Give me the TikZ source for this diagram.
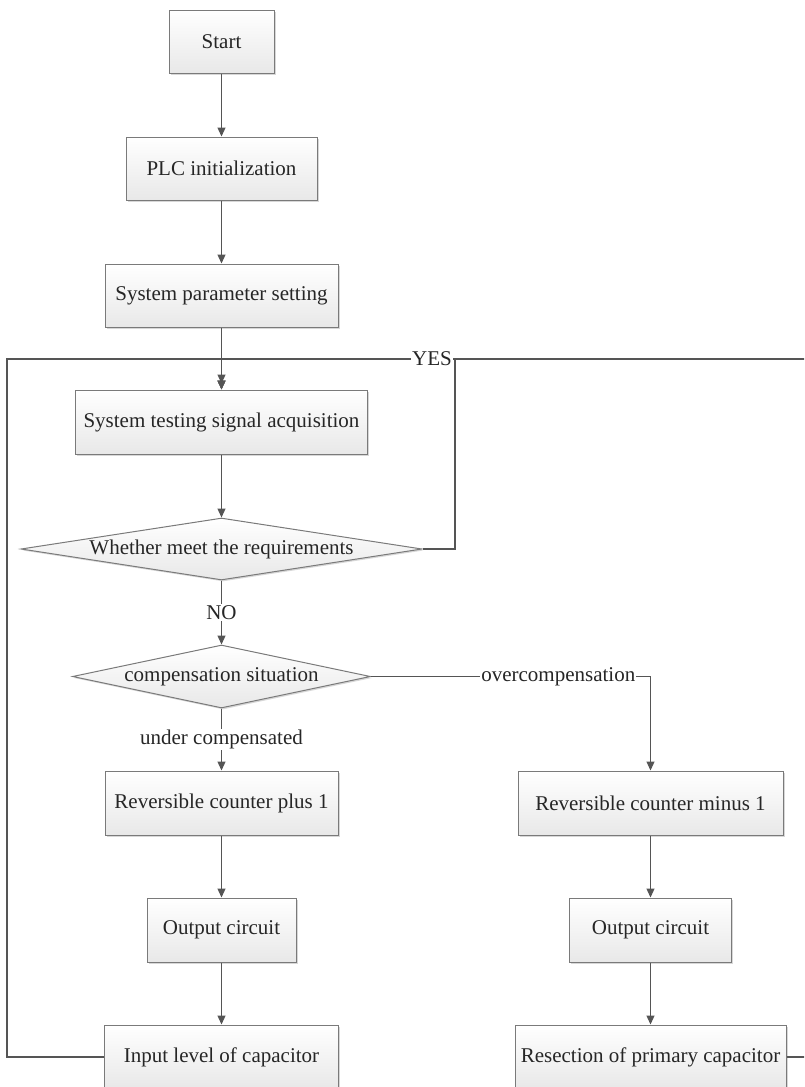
\documentclass[tikz,border=0pt]{standalone}
\usepackage{fontspec}
\setmainfont{Liberation Serif}
\usetikzlibrary{arrows.meta,shapes.geometric,shadows}
\definecolor{ln}{HTML}{555555}
\definecolor{bd}{HTML}{7A7A7A}
\tikzset{
  txt/.style={font=\fontsize{21}{25}\selectfont, text=black!85},
  box/.style={txt, rectangle, draw=bd, line width=1pt, top color=white, bottom color=black!9,
    drop shadow={shadow xshift=1.5pt, shadow yshift=-1.5pt, fill=black!35, opacity=0.45},
    inner sep=0pt},
  dia/.style={txt, diamond, draw=bd, line width=1pt, top color=white, bottom color=black!9,
    drop shadow={shadow xshift=1.5pt, shadow yshift=-1.5pt, fill=black!35, opacity=0.45},
    inner sep=0pt},
  conn/.style={draw=ln, line width=1.2pt, -{Triangle[length=9pt,width=8pt]}},
  lbl/.style={txt, fill=white, inner sep=1pt}
}
\begin{document}
\begin{tikzpicture}[x=1pt,y=-1pt]
\useasboundingbox (0,0) rectangle (804,1087);
\clip (0,0) rectangle (804,1087);
% main column
\node[box, minimum width=105pt, minimum height=63pt] (start) at (221.5,41.5) {Start};
\node[box, minimum width=191pt, minimum height=63pt] (plc) at (221.5,168.5) {PLC initialization};
\node[box, minimum width=233pt, minimum height=63pt] (param) at (221.5,295.5) {System parameter setting};
\node[box, minimum width=292pt, minimum height=64pt] (test) at (221.5,422) {System testing signal acquisition};
\node[dia, aspect=6.47, minimum width=401pt, minimum height=62pt] (d1) at (221.5,549) {Whether meet the requirements};
\node[dia, aspect=4.73, minimum width=298pt, minimum height=63pt] (d2) at (221.5,676.5) {compensation situation};
\node[box, minimum width=233pt, minimum height=64pt] (plus) at (221.5,803) {Reversible counter plus 1};
\node[box, minimum width=149pt, minimum height=64pt] (outl) at (221.5,930) {Output circuit};
\node[box, minimum width=234pt, minimum height=64pt] (inl) at (221.5,1057) {Input level of capacitor};
% right column
\node[box, minimum width=265pt, minimum height=64pt] (minus) at (650.5,803) {Reversible counter minus 1};
\node[box, minimum width=162pt, minimum height=64pt] (outr) at (650.5,930) {Output circuit};
\node[box, minimum width=271pt, minimum height=64pt] (resec) at (650.5,1057) {Resection of primary capacitor};
% helper coordinates
\coordinate (top) at (221.5,359);
\coordinate (yc) at (455,359);
\coordinate (lx) at (7,359);
\coordinate (rx) at (812,359);
% connectors
\draw[conn] (start) -- (plc);
\draw[conn] (plc) -- (param);
\draw[conn, shorten >=6pt] (param) -- (test);
\draw[conn] (test) -- (d1);
\draw[conn] (d1) -- node[lbl] {NO} (d2);
\draw[conn] (d2) -- node[lbl] {under compensated} (plus);
\draw[conn] (d2.east) -- node[lbl, pos=0.67] {overcompensation} (d2.east -| minus.north) -- (minus.north);
\draw[conn] (plus) -- (outl);
\draw[conn] (outl) -- (inl);
\draw[conn] (minus) -- (outr);
\draw[conn] (outr) -- (resec);
% loops back
\draw[conn] (resec.east) -| (rx) -- (top) -- (test.north);
\draw[conn] (inl.west) -| (lx) -- (top) -- (test.north);
\draw[conn] (d1.east) -| (yc) node[lbl, anchor=east, xshift=-1.5pt] {YES} -- (top) -- (test.north);
\end{tikzpicture}
\end{document}
